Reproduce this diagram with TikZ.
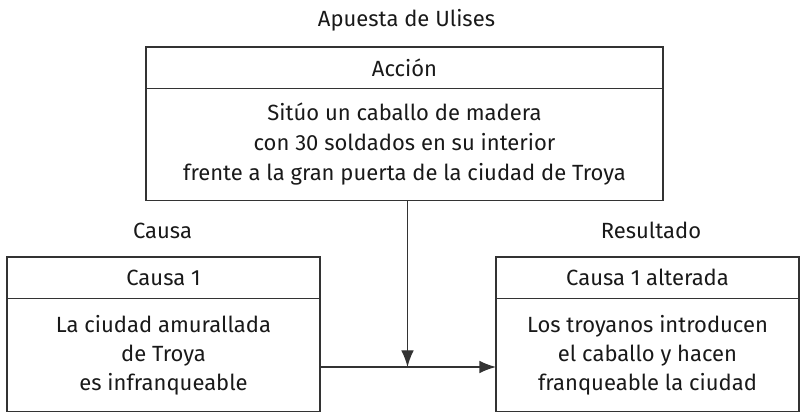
\documentclass[tikz,border=0pt]{standalone}
\usepackage{fontspec}
\setmainfont{Fira Sans}
\usetikzlibrary{positioning,arrows.meta}

\tikzset{caja/.style={draw=black!80,line width=1pt,outer sep=0pt,inner sep=0pt,
        text=black!90,align=center},
    cabeza/.style={caja,minimum height=31pt},
    cuerpo/.style={caja,font=\fontsize{16.5}{21.75}\selectfont}}

\begin{document}
\begin{tikzpicture}[x=0.75pt,y=-0.75pt,font=\fontsize{16.5}{22.5}\selectfont,
    >={Latex[length=12.5pt,width=9.5pt]}]
        \useasboundingbox (0,0) rectangle (800,413);

        \node[anchor=base,text=black!90] (titulo) at (406.5,27) {Apuesta de Ulises};
        \node[anchor=base,text=black!90] (causa) at (162.5,239) {Causa};
        \node[anchor=base,text=black!90] (resultado) at (651,239) {Resultado};

        \node[cabeza,minimum width=387.75pt,anchor=north west] (accion) at (146,47) {Acción};
        \node[caja,minimum width=387.75pt,minimum height=84pt,below=0pt of accion] (accionTxt)
            {Sitúo un caballo de madera\\con 30 soldados en su interior\\frente a la gran puerta de la ciudad de Troya};

        \node[cabeza,minimum width=234.75pt,anchor=north west] (causa1) at (7,257) {Causa 1};
        \node[cuerpo,minimum width=234.75pt,minimum height=84.75pt,below=0pt of causa1] (causaTxt)
            {La ciudad amurallada\\de Troya\\es infranqueable};

        \node[cabeza,minimum width=227.25pt,anchor=north west] (alterada) at (496,257) {Causa 1 alterada};
        \node[cuerpo,minimum width=227.25pt,minimum height=84.75pt,below=0pt of alterada] (alteradaTxt)
            {Los troyanos introducen\\el caballo y hacen\\franqueable la ciudad};

        \coordinate (cruce) at (407.5,367);
        \draw[->,draw=black!80,line width=1pt] (causaTxt.east |- cruce) -- (alteradaTxt.west |- cruce);
        \draw[->,draw=black!80,line width=1pt] (accionTxt.south -| cruce) -- (cruce);
\end{tikzpicture}
\end{document}
